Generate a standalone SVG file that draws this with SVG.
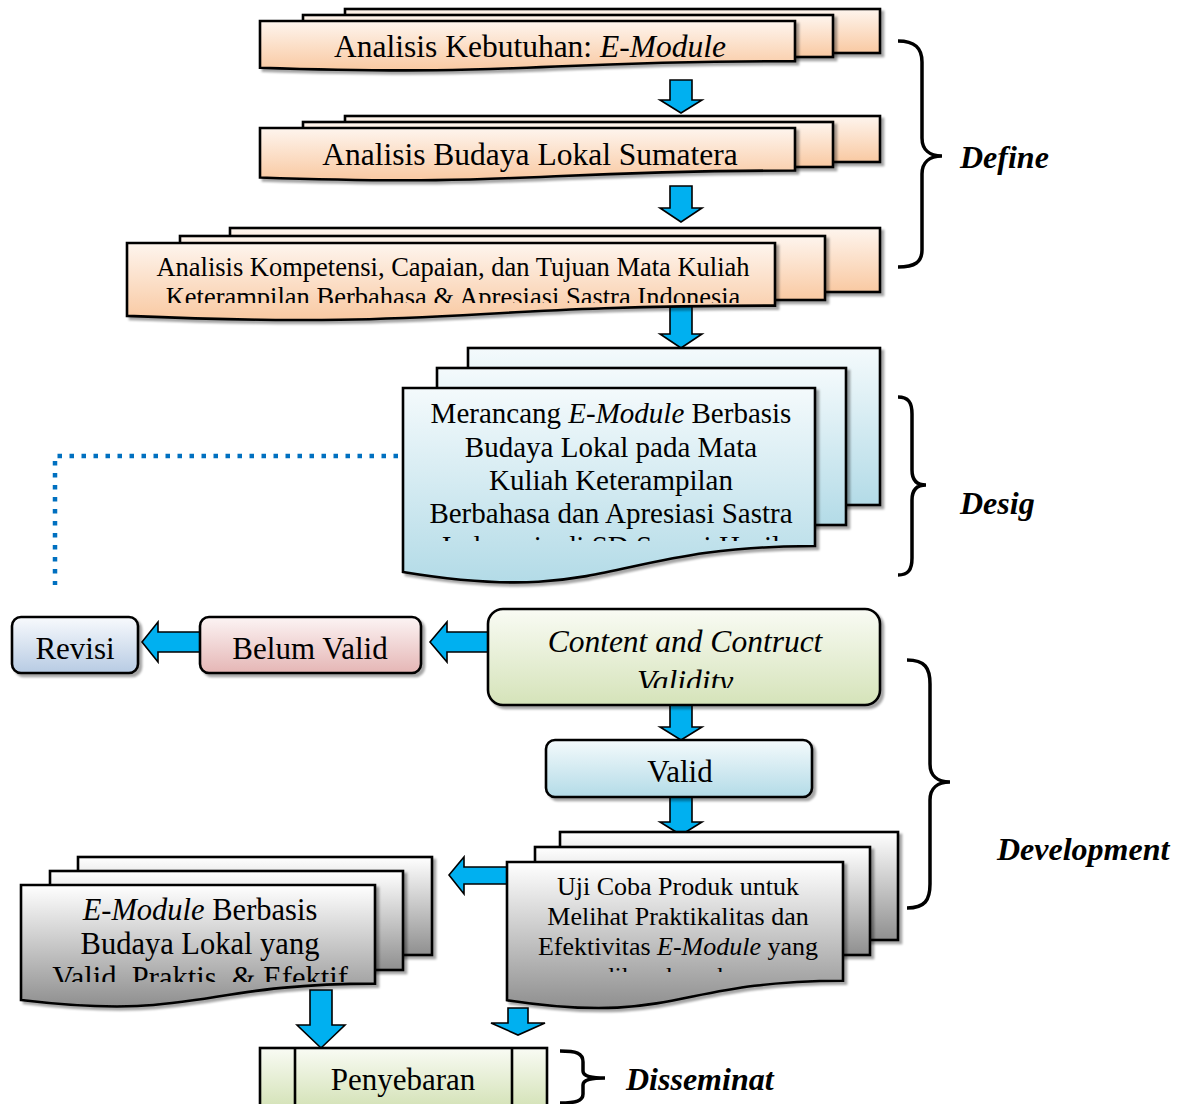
<svg xmlns="http://www.w3.org/2000/svg" width="1178" height="1104" viewBox="0 0 1178 1104">
<defs>
<linearGradient id="gOr" x1="0" y1="0" x2="0" y2="1"><stop offset="0" stop-color="#fef5ee"/><stop offset="1" stop-color="#f9c9a2"/></linearGradient>
<linearGradient id="gBl" x1="0" y1="0" x2="0" y2="1"><stop offset="0" stop-color="#f4fafc"/><stop offset="1" stop-color="#b3dbe7"/></linearGradient>
<linearGradient id="gGr" x1="0" y1="0" x2="0" y2="1"><stop offset="0" stop-color="#ffffff"/><stop offset="1" stop-color="#8f8f8f"/></linearGradient>
<linearGradient id="gGn" x1="0" y1="0" x2="0" y2="1"><stop offset="0" stop-color="#f9fbf4"/><stop offset="1" stop-color="#d5e3b9"/></linearGradient>
<linearGradient id="gRv" x1="0" y1="0" x2="0" y2="1"><stop offset="0" stop-color="#f8fafd"/><stop offset="1" stop-color="#b7cbe3"/></linearGradient>
<linearGradient id="gPk" x1="0" y1="0" x2="0" y2="1"><stop offset="0" stop-color="#fcf4f4"/><stop offset="1" stop-color="#e5b6b5"/></linearGradient>
<filter id="sh" x="-10%" y="-10%" width="130%" height="140%"><feDropShadow dx="3" dy="3" stdDeviation="1.3" flood-color="#000" flood-opacity="0.35"/></filter>
<clipPath id="c3"><rect x="120" y="240" width="660" height="63"/></clipPath>
<clipPath id="cD"><rect x="400" y="388" width="420" height="153"/></clipPath>
<clipPath id="cC"><rect x="488" y="609" width="392" height="79"/></clipPath>
<clipPath id="cU"><rect x="500" y="862" width="350" height="110"/></clipPath>
<clipPath id="cF"><rect x="15" y="885" width="365" height="97"/></clipPath>
</defs>
<style>
.box{stroke:#000;stroke-width:2.6;filter:url(#sh)}
.t{font-family:"Liberation Serif","Times New Roman",serif;fill:#000;text-anchor:middle}
.i{font-style:italic}
.lbl{font-family:"Liberation Serif","Times New Roman",serif;font-weight:bold;font-style:italic;font-size:32px;fill:#000}
.arr{fill:#00b0f0;stroke:#000;stroke-width:1.6;stroke-linejoin:miter}
.brace{fill:none;stroke:#000;stroke-width:3.5}
</style>
<rect width="1178" height="1104" fill="#fff"/>

<g id="connectors">
<path class="arr" d="M670,80 H692 V100 H702 L681,113 L660,100 H670 Z"/>
<path class="arr" d="M670,186 H692 V208 H702 L681,222 L660,208 H670 Z"/>
<path class="arr" d="M670,306 H692 V334 H702 L681,348 L660,334 H670 Z"/>
<path class="arr" d="M670,700 H692 V727 H702 L681,740 L660,727 H670 Z"/>
<path class="arr" d="M670,795 H692 V822 H702 L681,835 L660,822 H670 Z"/>
<path class="arr" d="M310,990 H332 V1025 H345 L321,1048 L297,1025 H310 Z"/>
<path class="arr" d="M508,1008 H528 V1023 H545 L518,1035 L491,1023 H508 Z"/>
<path class="arr" d="M204,632 V652 H158 V662 L142,642 L158,622 V632 Z"/>
<path class="arr" d="M492,632 V652 H447 V662 L430,642 L447,622 V632 Z"/>
<path class="arr" d="M510,867 V884 H464 V894 L449,875 L464,857 V867 Z"/>
<path d="M398,456 H55 V585" fill="none" stroke="#0070c0" stroke-width="4.5" stroke-dasharray="4.5 7.5"/>
</g>

<g id="n-kebutuhan">
<rect class="box" x="345" y="9" width="535" height="44" fill="url(#gOr)"/>
<rect class="box" x="303" y="15" width="530" height="42" fill="url(#gOr)"/>
<path class="box" d="M260,21 H795 V61.1 C527.5,61.1 527.5,76.4 260,67.7 Z" fill="url(#gOr)"/>
<text class="t" x="530" y="57" font-size="31.5">Analisis Kebutuhan: <tspan class="i">E-Module</tspan></text>
</g>

<g id="n-budaya">
<rect class="box" x="345" y="116" width="535" height="46" fill="url(#gOr)"/>
<rect class="box" x="303" y="122" width="530" height="45" fill="url(#gOr)"/>
<path class="box" d="M260,128 H795 V170.5 C527.5,170.5 527.5,186.7 260,177.5 Z" fill="url(#gOr)"/>
<text class="t" x="530" y="165" font-size="31.5">Analisis Budaya Lokal Sumatera</text>
</g>

<g id="n-kompetensi">
<rect class="box" x="230" y="228" width="650" height="64" fill="url(#gOr)"/>
<rect class="box" x="180" y="236" width="645" height="64" fill="url(#gOr)"/>
<path class="box" d="M127,243 H775 V305.6 C451,305.6 451,329.4 127,315.9 Z" fill="url(#gOr)"/>
<g clip-path="url(#c3)">
<text class="t" x="453" y="276" font-size="26.5">Analisis Kompetensi, Capaian, dan Tujuan Mata Kuliah</text>
<text class="t" x="453" y="306" font-size="26.5">Keterampilan Berbahasa &amp; Apresiasi Sastra Indonesia</text>
</g>
</g>

<g id="n-merancang">
<rect class="box" x="468" y="348" width="412" height="157" fill="url(#gBl)"/>
<rect class="box" x="437" y="368" width="409" height="157" fill="url(#gBl)"/>
<path class="box" d="M403,388 H815 V546 C609,546 609,606 403,572 Z" fill="url(#gBl)"/>
<g clip-path="url(#cD)" class="t" font-size="29">
<text class="t" x="611" y="423">Merancang <tspan class="i">E-Module</tspan> Berbasis</text>
<text class="t" x="611" y="457">Budaya Lokal pada Mata</text>
<text class="t" x="611" y="490">Kuliah Keterampilan</text>
<text class="t" x="611" y="523">Berbahasa dan Apresiasi Sastra</text>
<text class="t" x="611" y="556">Indonesia di SD Sesuai Hasil</text>
</g>
</g>

<g id="n-revisi">
<rect class="box" x="12" y="617" width="126" height="56" rx="9" fill="url(#gRv)"/>
<text class="t" x="75" y="659" font-size="31">Revisi</text>
</g>

<g id="n-belum">
<rect class="box" x="200" y="617" width="221" height="56" rx="9" fill="url(#gPk)"/>
<text class="t" x="310" y="659" font-size="31">Belum Valid</text>
</g>

<g id="n-validity">
<rect class="box" x="488" y="609" width="392" height="96" rx="15" fill="url(#gGn)"/>
<g clip-path="url(#cC)">
<text class="t i" x="685" y="652" font-size="31.5">Content and Contruct</text>
<text class="t i" x="685" y="692" font-size="31.5">Validity</text>
</g>
</g>

<g id="n-valid">
<rect class="box" x="546" y="740" width="266" height="57" rx="9" fill="url(#gBl)"/>
<text class="t" x="680" y="782" font-size="31">Valid</text>
</g>

<g id="n-ujicoba">
<rect class="box" x="560" y="832" width="338" height="108" fill="url(#gGr)"/>
<rect class="box" x="535" y="847" width="335" height="108" fill="url(#gGr)"/>
<path class="box" d="M507,862 H843 V980.7 C675,980.7 675,1025.9 507,1000.2 Z" fill="url(#gGr)"/>
<g clip-path="url(#cU)">
<text class="t" x="678" y="895" font-size="26">Uji Coba Produk untuk</text>
<text class="t" x="678" y="925" font-size="26">Melihat Praktikalitas dan</text>
<text class="t" x="678" y="955" font-size="26">Efektivitas <tspan class="i">E-Module</tspan> yang</text>
<text class="t" x="678" y="985" font-size="26">dikembangkan</text>
</g>
</g>

<g id="n-final">
<rect class="box" x="78" y="857" width="354" height="98" fill="url(#gGr)"/>
<rect class="box" x="50" y="871" width="353" height="99" fill="url(#gGr)"/>
<path class="box" d="M21,885 H375 V983.6 C198,983.6 198,1021.2 21,1000 Z" fill="url(#gGr)"/>
<g clip-path="url(#cF)">
<text class="t" x="200" y="920" font-size="30.5"><tspan class="i">E-Module</tspan> Berbasis</text>
<text class="t" x="200" y="954" font-size="30.5">Budaya Lokal yang</text>
<text class="t" x="200" y="988" font-size="30.5">Valid, Praktis, &amp; Efektif</text>
</g>
</g>

<g id="n-penyebaran">
<rect x="260" y="1048" width="287" height="58" fill="url(#gGn)" stroke="#000" stroke-width="2.6"/>
<line x1="295" y1="1048" x2="295" y2="1104" stroke="#000" stroke-width="2.6"/>
<line x1="512" y1="1048" x2="512" y2="1104" stroke="#000" stroke-width="2.6"/>
<text class="t" x="403" y="1090" font-size="31">Penyebaran</text>
</g>

<g id="phases">
<path class="brace" d="M898,41 C915,41 922,48 922,62 L922,138 C922,150 930,156 942,156 C930,156 922,162 922,174 L922,250 C922,262 915,267 898,267"/>
<text class="lbl" x="960" y="168">Define</text>
<path class="brace" d="M898,397 C908,397 912,402 912,414 L912,470 C912,480 917,485 926,485 C917,485 912,490 912,500 L912,558 C912,570 908,575 898,575"/>
<text class="lbl" x="960" y="514">Desig</text>
<path class="brace" d="M907,660 C925,660 930,668 930,684 L930,764 C930,776 938,782 950,782 C938,782 930,788 930,800 L930,884 C930,900 925,908 907,908"/>
<text class="lbl" x="997" y="860">Development</text>
<path class="brace" d="M560,1051 C576,1051 583,1053 583,1062 L583,1071 C583,1076 590,1078 605,1078 C590,1078 583,1080 583,1085 L583,1094 C583,1101 576,1103 560,1103"/>
<text class="lbl" x="626" y="1090">Disseminat</text>
</g>
</svg>
